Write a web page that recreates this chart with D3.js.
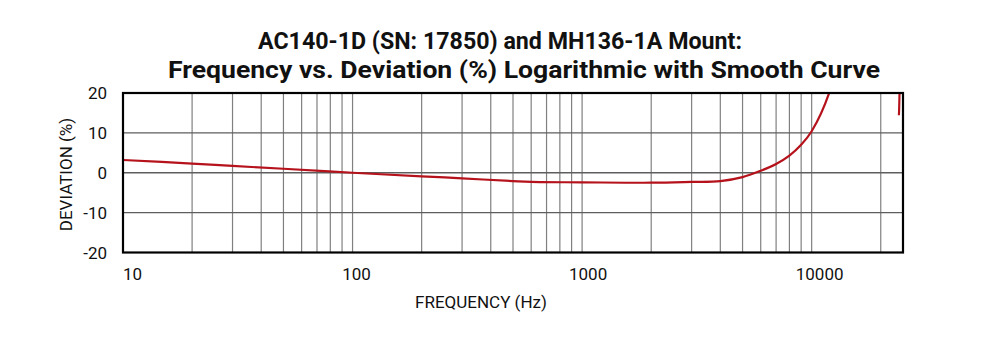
<!DOCTYPE html>
<html>
<head>
<meta charset="utf-8">
<script src="https://cdn.jsdelivr.net/npm/d3@7"></script>
<style>
  html, body { margin: 0; padding: 0; background: #fff; }
  svg { display: block; }
</style>
</head>
<body>
<svg id="chart" width="1000" height="341"></svg>
<script>
// Frequency response data (Hz, % deviation)
const frequencies = [10, 20, 30, 50, 100, 200, 300, 500, 600, 1000, 2000, 3000, 4000, 5000, 6000, 7000, 8000, 9000, 10000, 12000, 15000, 20000, 23900, 24000];
const deviations  = [3.2, 2.3, 1.7, 1.0, 0.0, -0.9, -1.4, -2.1, -2.3, -2.4, -2.5, -2.3, -2.1, -1.1, 0.5, 2.2, 4.3, 7.0, 10.4, 20.5, 45, 90, 60, 14.4];

const xTickValues = [10, 100, 1000, 10000];
const xTickLabels = ["10", "100", "1000", "10000"];
const yTickValues = [-20, -10, 0, 10, 20];
const titleLines = ["AC140-1D (SN: 17850) and MH136-1A Mount:", "Frequency vs. Deviation (%) Logarithmic with Smooth Curve"];

const svg = d3.select("#chart");
const margin = { left: 123, right: 97, top: 93, bottom: 88.5 };
const W = 1000, H = 341;
const pw = W - margin.left - margin.right;
const ph = H - margin.top - margin.bottom;

const x = d3.scaleLog().domain([10, 25000]).range([margin.left, margin.left + pw]);
const y = d3.scaleLinear().domain([-20, 20]).range([margin.top + ph, margin.top]);

// Title
const title = svg.append("g")
  .attr("font-family", "Roboto, 'Noto Sans', sans-serif")
  .attr("font-weight", "bold")
  .attr("font-size", 24)
  .attr("fill", "#111");
title.append("text").attr("x", 500).attr("y", 49).attr("text-anchor", "middle")
  .attr("textLength", 484).attr("lengthAdjust", "spacingAndGlyphs").text(titleLines[0]);
title.append("text").attr("x", 524).attr("y", 78).attr("text-anchor", "middle")
  .attr("textLength", 712).attr("lengthAdjust", "spacingAndGlyphs").text(titleLines[1]);

// Vertical gridlines at every minor log tick
const minor = [];
for (let d = 10; d <= 10000; d *= 10) {
  for (let k = 1; k <= 9; k++) {
    const v = d * k;
    if (v > 10 && v <= 25000) minor.push(v);
  }
}
svg.append("g").selectAll("line").data(minor).join("line")
  .attr("x1", d => x(d)).attr("x2", d => x(d))
  .attr("y1", margin.top).attr("y2", margin.top + ph)
  .attr("stroke", "#808080").attr("stroke-width", 1.2);

// Horizontal gridlines
svg.append("g").selectAll("line").data(yTickValues.filter(v => v > -20 && v < 20)).join("line")
  .attr("x1", margin.left).attr("x2", margin.left + pw)
  .attr("y1", d => y(d)).attr("y2", d => y(d))
  .attr("stroke", "#5e5e5e").attr("stroke-width", 1.4);

// Curve, clipped to the plot area
svg.append("clipPath").attr("id", "plotClip").append("rect")
  .attr("x", margin.left).attr("y", margin.top).attr("width", pw).attr("height", ph);

const pts = frequencies.map((f, i) => [f, deviations[i]]);
const line = d3.line().x(d => x(d[0])).y(d => y(d[1])).curve(d3.curveCatmullRom.alpha(0.5));
svg.append("path").datum(pts)
  .attr("clip-path", "url(#plotClip)")
  .attr("fill", "none").attr("stroke", "#b5121b").attr("stroke-width", 2.2)
  .attr("d", line);

// Frame
svg.append("rect")
  .attr("x", margin.left).attr("y", margin.top).attr("width", pw).attr("height", ph)
  .attr("fill", "none").attr("stroke", "#000").attr("stroke-width", 2.2);

// Axes labels
const axisFont = "Roboto, 'Noto Sans', sans-serif";
svg.append("g").selectAll("text").data(yTickValues).join("text")
  .attr("x", margin.left - 16).attr("y", d => y(d)).attr("dy", "0.36em")
  .attr("text-anchor", "end").attr("font-family", axisFont).attr("font-size", 17).attr("fill", "#111")
  .text(d => d);

svg.append("g").selectAll("text").data(xTickValues).join("text")
  .attr("x", d => x(d)).attr("dx", (d, i) => i === 0 ? 0 : 2 + i * 2)
  .attr("y", margin.top + ph + 27)
  .attr("text-anchor", (d, i) => i === 0 ? "start" : "middle")
  .attr("font-family", axisFont).attr("font-size", 17).attr("fill", "#111")
  .text((d, i) => xTickLabels[i]);

svg.append("text").attr("x", 481).attr("y", 308).attr("text-anchor", "middle")
  .attr("font-family", axisFont).attr("font-size", 17).attr("fill", "#111")
  .text("FREQUENCY (Hz)");

svg.append("text").attr("transform", "translate(72,174.5) rotate(-90)").attr("text-anchor", "middle")
  .attr("font-family", axisFont).attr("font-size", 17).attr("fill", "#111")
  .text("DEVIATION (%)");
</script>
</body>
</html>
